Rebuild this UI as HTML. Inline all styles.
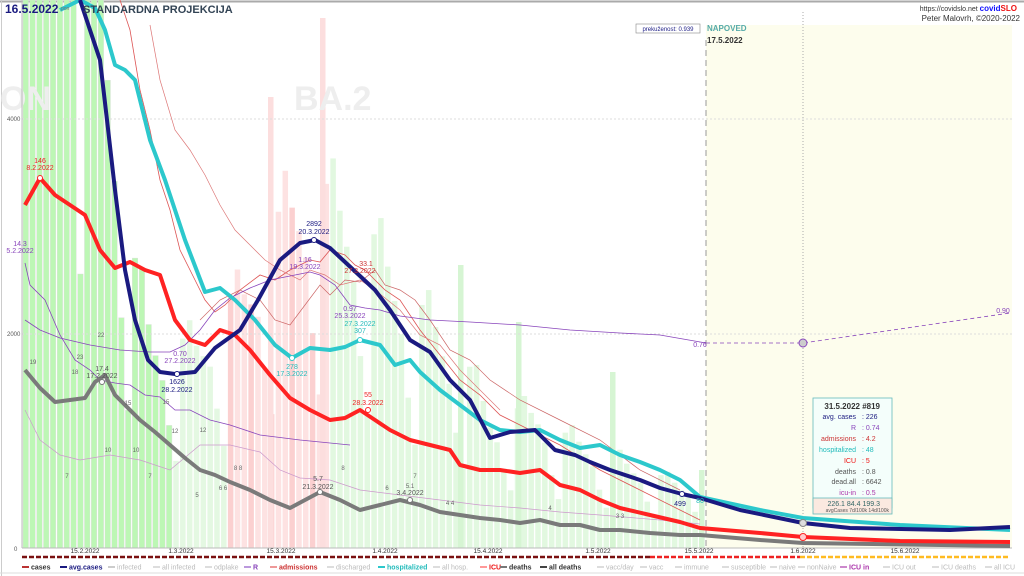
<!DOCTYPE html>
<html><head><meta charset="utf-8"><style>
html,body{margin:0;padding:0;background:#fff;width:1024px;height:576px;overflow:hidden;font-family:"Liberation Sans",sans-serif}
svg text{font-family:"Liberation Sans",sans-serif}
</style></head><body>
<svg id="s" width="1024" height="576" viewBox="0 0 1024 576" xmlns="http://www.w3.org/2000/svg">
<rect width="1024" height="576" fill="#fff"/>
<line x1="0" y1="1.5" x2="1024" y2="1.5" stroke="#aaa" stroke-width="2"/>
<line x1="1.5" y1="0" x2="1.5" y2="576" stroke="#ccc"/>
<rect x="706" y="25" width="306" height="523" fill="#fdfded"/>
<g id="bars"></g>
<text x="0" y="110" font-size="34" font-weight="bold" fill="#eee">ON</text>
<text x="294" y="110" font-size="34" font-weight="bold" fill="#eee">BA.2</text>
<line x1="22" y1="119" x2="1012" y2="119" stroke="#ddd" stroke-dasharray="2,2"/>
<line x1="22" y1="334" x2="1012" y2="334" stroke="#ddd" stroke-dasharray="2,2"/>
<line x1="22" y1="548" x2="1012" y2="548" stroke="#bbb"/>
<line x1="22" y1="0" x2="22" y2="548" stroke="#bbb"/>
<text x="7" y="121" font-size="6" fill="#555">4000</text>
<text x="7" y="336" font-size="6" fill="#555">2000</text>
<text x="14" y="551" font-size="6" fill="#555">0</text>
<line x1="803" y1="12" x2="803" y2="548" stroke="#aaa" stroke-dasharray="1,2"/>
<line x1="706" y1="40" x2="706" y2="548" stroke="#999" stroke-dasharray="6,4"/>
<polyline fill="none" stroke="#d55" stroke-width="0.8" points="120,0 130,30 140,90 150,130 160,180 170,210 180,250 195,280 205,300 215,312 225,305 240,290 260,275 275,280 290,270 310,260 320,262 330,250 345,255 355,265 365,270 375,280 385,290 400,300 420,330 440,355 460,380 480,395 500,415 530,430 560,445 600,470 640,490 680,510 700,520"/>
<polyline fill="none" stroke="#d77" stroke-width="0.7" points="150,25 160,80 175,130 190,150 205,175 220,205 235,230 250,245 265,260 280,270 300,280 310,270 325,275 340,285 360,280 375,290 400,310 420,335 440,345 460,370 480,390 500,410"/>
<polyline fill="none" stroke="#c66" stroke-width="0.7" points="200,320 220,300 240,290 260,300 275,320 290,325 305,305 320,285 330,295 345,280 360,282 375,270 385,285 400,290 415,300 430,320 450,350 470,360 490,380 520,400 560,420 600,440 640,470 680,490"/>
<polyline fill="none" stroke="#c9c" stroke-width="0.7" points="25,410 40,440 60,455 80,460 110,455 140,460 170,470 200,445 230,445 260,452 280,470 300,478 330,480 360,490 400,495 440,500 480,505 520,508 560,512 600,515 660,520 700,524"/>
<polyline fill="none" stroke="#84b" stroke-width="0.8" points="25,320 40,330 60,338 90,345 120,350 150,352 170,352 185,345 200,330 215,310 230,298 250,288 270,280 295,275 310,272 320,275 335,285 350,305 365,308 380,310 400,316 430,320 470,322 520,325 570,330 620,333 660,335 706,343"/>
<polyline fill="none" stroke="#84b" stroke-width="0.8" points="25,263 30,285 45,300 60,335 75,360 90,370 100,380 115,383 130,385 145,395 160,397 175,410 190,410 210,420 230,425 260,435 300,440 350,445"/>
<polyline fill="none" stroke="#84b" stroke-width="0.8" stroke-dasharray="4,3" points="706,343 803,343 1010,313"/>
<polyline fill="none" stroke="#7a7a7a" stroke-width="4" stroke-linejoin="round" points="25,370 40,388 55,402 70,400 85,398 95,382 105,375 115,395 125,405 140,420 155,432 170,445 185,458 200,470 215,475 230,482 250,490 270,500 290,508 305,500 320,492 340,500 360,510 380,505 400,500 420,505 440,512 460,515 480,518 500,520 520,523 540,520 560,525 580,525 600,530 620,530 650,533 680,535 700,535 760,540 803,543 1010,546"/>
<polyline fill="none" stroke="#f22" stroke-width="4" stroke-linejoin="round" points="25,205 40,178 55,195 70,205 85,215 100,250 115,268 130,262 145,270 160,275 175,320 190,340 205,345 220,330 235,335 250,350 270,375 290,398 310,410 330,420 345,418 360,410 375,420 390,430 410,440 430,445 450,450 460,465 480,470 500,470 520,473 540,470 560,485 580,490 600,500 620,508 650,515 680,522 700,528 760,533 803,537 900,541 1010,542"/>
<polyline fill="none" stroke="#2cc8cc" stroke-width="4" stroke-linejoin="round" points="60,10 70,5 80,0 95,8 105,30 115,65 125,70 135,80 150,140 165,180 185,240 205,292 220,288 235,300 255,320 275,345 292,358 310,348 330,350 345,347 360,340 380,345 395,365 410,360 420,372 440,390 460,405 480,420 500,430 520,432 540,430 560,440 580,448 600,445 620,455 640,462 660,470 680,480 700,497 760,510 803,518 900,525 1010,530"/>
<polyline fill="none" stroke="#1a1a80" stroke-width="4" stroke-linejoin="round" points="80,0 100,60 107,120 115,190 125,270 135,320 148,360 160,372 175,374 195,372 215,348 240,330 258,300 280,260 300,243 315,240 330,248 345,262 360,276 375,290 390,310 410,340 430,352 450,380 470,400 490,438 510,432 535,430 555,450 575,455 590,462 610,470 640,480 660,488 682,494 700,498 740,510 803,523 850,528 950,530 1010,527"/>
<g font-size="7" text-anchor="middle">
<circle cx="40" cy="178" r="2.5" fill="#fff" stroke="#f22"/><text x="40" y="163" fill="#e22">146</text><text x="40" y="170" fill="#e22">8.2.2022</text>
<text x="20" y="246" fill="#84b">14.3</text><text x="20" y="253" fill="#84b">5.2.2022</text>
<circle cx="177" cy="374" r="2.5" fill="#fff" stroke="#1a1a80"/><text x="177" y="384" fill="#1a1a80">1626</text><text x="177" y="392" fill="#1a1a80">28.2.2022</text>
<text x="180" y="356" fill="#84b">0.70</text><text x="180" y="363" fill="#84b">27.2.2022</text>
<circle cx="314" cy="240" r="2.5" fill="#fff" stroke="#1a1a80"/><text x="314" y="226" fill="#1a1a80">2892</text><text x="314" y="234" fill="#1a1a80">20.3.2022</text>
<text x="305" y="262" fill="#84b">1.16</text><text x="305" y="269" fill="#84b">19.3.2022</text>
<text x="366" y="266" fill="#c33">33.1</text><text x="360" y="273" fill="#c33">27.3.2022</text>
<text x="350" y="311" fill="#84b">0.97</text><text x="350" y="318" fill="#84b">25.3.2022</text>
<circle cx="292" cy="358" r="2.5" fill="#fff" stroke="#2cc8cc"/><text x="292" y="369" fill="#2bb">278</text><text x="292" y="376" fill="#2bb">17.3.2022</text>
<circle cx="360" cy="340" r="2.5" fill="#fff" stroke="#2cc8cc"/><text x="360" y="333" fill="#2bb">307</text><text x="360" y="326" fill="#2bb">27.3.2022</text>
<circle cx="368" cy="410" r="2.5" fill="#fff" stroke="#f22"/><text x="368" y="397" fill="#e22">55</text><text x="368" y="405" fill="#e22">28.3.2022</text>
<circle cx="102" cy="382" r="2.5" fill="#fff" stroke="#777"/><text x="102" y="371" fill="#555">17.4</text><text x="102" y="378" fill="#555">17.2.2022</text>
<circle cx="320" cy="492" r="2.5" fill="#fff" stroke="#777"/><text x="318" y="481" fill="#555">5.7</text><text x="318" y="489" fill="#555">21.3.2022</text>
<circle cx="410" cy="500" r="2.5" fill="#fff" stroke="#777"/><text x="410" y="495" fill="#555">3.4.2022</text>
<text x="700" y="347" fill="#84b">0.76</text><text x="1003" y="313" fill="#84b">0.90</text>
<circle cx="682" cy="494" r="2.5" fill="#fff" stroke="#1a1a80"/><text x="680" y="506" fill="#1a1a80">499</text>
<text x="700" y="503" fill="#2bb">80</text>
<circle cx="803" cy="343" r="4" fill="#ccc" stroke="#84b"/>
<circle cx="803" cy="523" r="3.5" fill="#ddd" stroke="#888"/><circle cx="803" cy="537" r="3.5" fill="#fcc" stroke="#f22"/>
</g>
<g font-size="6" fill="#666" text-anchor="middle">
<text x="33" y="364">19</text><text x="80" y="359">23</text><text x="101" y="337">22</text><text x="75" y="374">18</text><text x="128" y="405">15</text><text x="166" y="404">15</text><text x="175" y="433">12</text><text x="203" y="432">12</text><text x="108" y="452">10</text><text x="136" y="452">10</text><text x="67" y="478">7</text><text x="150" y="478">7</text><text x="238" y="470">8 8</text><text x="223" y="490">6 6</text><text x="197" y="497">5</text><text x="343" y="470">8</text><text x="387" y="490">6</text><text x="415" y="478">7</text><text x="410" y="488">5.1</text><text x="450" y="505">4 4</text><text x="550" y="510">4</text><text x="620" y="518">3 3</text>
</g>
<text x="5" y="13" font-size="12" font-weight="bold" fill="#1a1a80">16.5.2022</text>
<text x="61" y="10" font-size="5" fill="#777">pon</text>
<text x="83" y="13" font-size="11" font-weight="bold" fill="#345">STANDARDNA PROJEKCIJA</text>
<text x="1017" y="11" font-size="7" fill="#333" text-anchor="end">https://covidslo.net <tspan fill="#11f" font-weight="bold" font-size="8">covid</tspan><tspan fill="#e11" font-weight="bold" font-size="8">SLO</tspan></text>
<text x="1020" y="21" font-size="8" fill="#333" text-anchor="end">Peter Malovrh, ©2020-2022</text>
<rect x="636" y="24" width="64" height="9" fill="#fff" stroke="#888" stroke-width="0.6"/>
<text x="668" y="31" font-size="6" fill="#228" text-anchor="middle">prekuženost: 0.939</text>
<text x="707" y="31" font-size="8" font-weight="bold" fill="#5aa">NAPOVED</text>
<text x="707" y="43" font-size="8" font-weight="bold" fill="#333">17.5.2022</text>
<rect x="813" y="398" width="79" height="110" fill="#f4fefb" stroke="#6bb" stroke-width="0.8"/>
<rect x="813" y="498" width="79" height="16" fill="#fbe9e0" stroke="#6bb" stroke-width="0.8"/>
<g font-size="7" text-anchor="end">
<text x="880" y="409" fill="#333" font-weight="bold" font-size="8">31.5.2022 #819</text>
<text x="856" y="419" fill="#1a1a80">avg. cases</text><text x="862" y="419" fill="#1a1a80" text-anchor="start">:  226</text>
<text x="856" y="430" fill="#84b">R</text><text x="862" y="430" fill="#84b" text-anchor="start">:  0.74</text>
<text x="856" y="441" fill="#c33">admissions</text><text x="862" y="441" fill="#c33" text-anchor="start">:  4.2</text>
<text x="856" y="452" fill="#2bb">hospitalized</text><text x="862" y="452" fill="#2bb" text-anchor="start">:  48</text>
<text x="856" y="463" fill="#e11">ICU</text><text x="862" y="463" fill="#e11" text-anchor="start">:  5</text>
<text x="856" y="474" fill="#555">deaths</text><text x="862" y="474" fill="#555" text-anchor="start">:  0.8</text>
<text x="856" y="484" fill="#555">dead.all</text><text x="862" y="484" fill="#555" text-anchor="start">:  6642</text>
<text x="856" y="495" fill="#a3a">icu-in</text><text x="862" y="495" fill="#a3a" text-anchor="start">:  0.5</text>
<text x="880" y="506" fill="#366" font-size="7">226.1  84.4  199.3</text>
<text x="889" y="512" fill="#555" font-size="5">avgCases 7d/100k 14d/100k</text>
</g>
<g font-size="6.5" fill="#333" text-anchor="middle">
<text x="85" y="553">15.2.2022</text><text x="181" y="553">1.3.2022</text><text x="281" y="553">15.3.2022</text><text x="385" y="553">1.4.2022</text><text x="488" y="553">15.4.2022</text><text x="598" y="553">1.5.2022</text><text x="699" y="553">15.5.2022</text><text x="803" y="553">1.6.2022</text><text x="905" y="553">15.6.2022</text>
</g>
<line x1="22" y1="557" x2="650" y2="557" stroke="#7a1010" stroke-width="2.5" stroke-dasharray="5,2"/>
<line x1="650" y1="557" x2="800" y2="557" stroke="#e22" stroke-width="2.5" stroke-dasharray="5,2"/>
<line x1="800" y1="557" x2="1010" y2="557" stroke="#fb2" stroke-width="2.5" stroke-dasharray="5,2"/>
<g font-size="7" id="leg"></g>
<line x1="0" y1="573" x2="1024" y2="573" stroke="#ddd"/>
</svg>
<script>
var NS="http://www.w3.org/2000/svg";
var navy=[[22,0],[80,0],[100,60],[107,120],[115,190],[125,270],[135,320],[148,360],[160,372],[175,374],[195,372],[215,348],[240,330],[258,300],[280,260],[300,243],[315,240],[330,248],[345,262],[360,276],[375,290],[390,310],[410,340],[430,352],[450,380],[470,400],[490,438],[510,432],[535,430],[555,450],[575,455],[590,462],[610,470],[640,480],[660,488],[682,494],[700,498]];
function yat(x){for(var i=1;i<navy.length;i++){if(x<=navy[i][0]){var a=navy[i-1],b=navy[i];return a[1]+(b[1]-a[1])*(x-a[0])/(b[0]-a[0]);}}return 498;}
var f=[1.2,1.3,1.15,1.05,0.95,0.7,0.5];
var g=document.getElementById("bars");
for(var i=0;i<100;i++){var x=23+i*6.83;if(x>702)break;var h=(548-yat(x))*f[(i+5)%7];if(x<75)h=548;var y=Math.max(0,548-h);
var c= x<170?"#bdf7b5":(x<225?"#e4f8e2":(x<330?"#fde2e2":"#e2f8e0"));
if(x>=225&&x<330&&i%3==0)c="#fbd0d0";
var r=document.createElementNS(NS,"rect");r.setAttribute("x",x);r.setAttribute("y",y);r.setAttribute("width",5.5);r.setAttribute("height",548-y);r.setAttribute("fill",c);r.setAttribute("stroke",x<170?"#ddd":"none");r.setAttribute("stroke-width","0.4");g.appendChild(r);}
[[268,97],[320,18],[458,265],[516,322],[610,372],[699,470]].forEach(function(p){var r=document.createElementNS(NS,"rect");r.setAttribute("x",p[0]);r.setAttribute("y",p[1]);r.setAttribute("width",5.5);r.setAttribute("height",548-p[1]);r.setAttribute("fill",p[0]<330?"#fcdede":"#d6f5d3");g.appendChild(r);});
var L=[["cases","#333","#b33"],["avg.cases","#1a1a80","#1a1a80"],["infected","#bbb","#ccc"],["all infected","#bbb","#ddd"],["odplake","#bbb","#ddd"],["R","#84b","#b9d"],["admissions","#c33","#e99"],["discharged","#bbb","#ddd"],["hospitalized","#2bb","#2cc8cc"],["all hosp.","#bbb","#ddd"],["ICU","#e11","#f99"],["deaths","#333","#777"],["all deaths","#333","#444"],["vacc/day","#bbb","#ddd"],["vacc","#bbb","#ddd"],["immune","#bbb","#ddd"],["susceptible","#bbb","#ddd"],["naive","#bbb","#ddd"],["nonNaive","#bbb","#ddd"],["ICU in","#a3a","#c8c"],["ICU out","#bbb","#ddd"],["ICU deaths","#bbb","#ddd"],["all ICU","#bbb","#ddd"]];
var lg=document.getElementById("leg");
L.forEach(function(l,i){var px=[22,60,108,153,205,244,270,327,378,433,480,500,540,597,640,675,722,770,798,840,883,932,985][i];
var ln=document.createElementNS(NS,"line");ln.setAttribute("x1",px);ln.setAttribute("x2",px+7);ln.setAttribute("y1",567);ln.setAttribute("y2",567);ln.setAttribute("stroke",l[2]);ln.setAttribute("stroke-width",2);lg.appendChild(ln);
var t=document.createElementNS(NS,"text");t.setAttribute("x",px+9);t.setAttribute("y",569.5);t.setAttribute("fill",l[1]);if(l[1]!="#bbb")t.setAttribute("font-weight","bold");t.textContent=l[0];lg.appendChild(t);});
</script>
</body></html>
